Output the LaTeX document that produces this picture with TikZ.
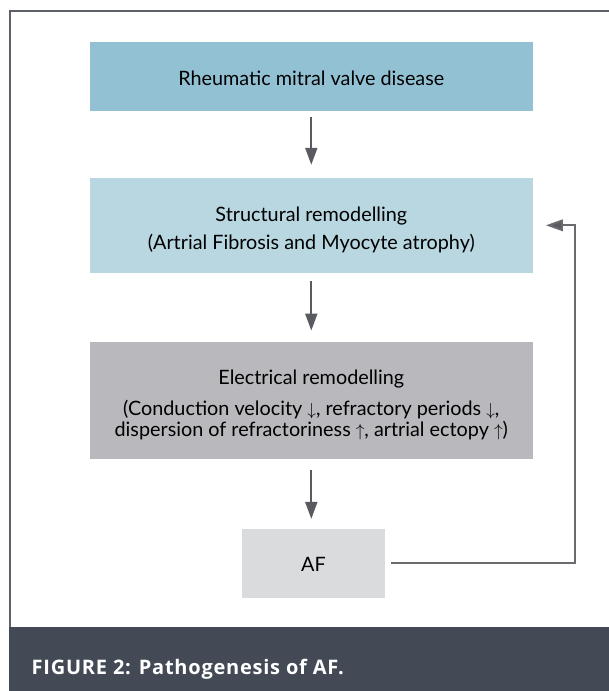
\documentclass[tikz,border=0pt]{standalone}
\usepackage{fontspec}
\setmainfont{Lato}
\newfontfamily\capfont[LetterSpace=3.8]{Open Sans}
\usetikzlibrary{arrows.meta}
\definecolor{boxA}{HTML}{93C1D4}
\definecolor{boxB}{HTML}{B9D7E1}
\definecolor{boxC}{HTML}{B9B8BD}
\definecolor{boxD}{HTML}{DADBDD}
\definecolor{capbg}{HTML}{434A55}
\definecolor{framec}{HTML}{5B6069}
\definecolor{arrc}{HTML}{5A5B60}
\definecolor{feedc}{HTML}{6B6B6F}
\newcommand{\dnarr}{{\fontsize{17}{17}\selectfont\(\downarrow\)}}
\newcommand{\uparr}{{\fontsize{17}{17}\selectfont\(\uparrow\)}}
\tikzset{
  flowbox/.style={draw=none, inner sep=0pt},
  flowtext/.style={inner sep=0pt, align=center, font=\fontsize{19.8}{28}\selectfont, text=black},
  flowarrow/.style={draw=arrc, line width=2pt, -{Triangle[length=17pt,width=12pt]}},
  feedline/.style={draw=feedc, line width=2pt, -{Triangle[length=17pt,width=11.5pt,fill=arrc]}},
}
\begin{document}
\begin{tikzpicture}[x=1pt,y=-1pt]
\useasboundingbox (0,0) rectangle (609,691);
\fill[white] (0,0) rectangle (609,691);
% frame
\draw[framec, line width=2pt] (10,627) -- (10,11) -- (609,11);
% caption band
\fill[capbg] (9,626.7) rectangle (609,691);
\node[anchor=west, text=white, inner sep=0pt, font=\capfont\bfseries\fontsize{20}{22}\selectfont] (cap) at (31.5,669.5) {FIGURE 2: Pathogenesis of AF.};
% boxes
\node[flowbox, fill=boxA, minimum width=442.7pt, minimum height=68.7pt] (b1) at (311.3,76.3) {};
\node[flowbox, fill=boxB, minimum width=442.7pt, minimum height=94.7pt] (b2) at (311.3,225.3) {};
\node[flowbox, fill=boxC, minimum width=442.7pt, minimum height=117.3pt] (b3) at (311.3,400.4) {};
\node[flowbox, fill=boxD, minimum width=143pt, minimum height=68.7pt] (b4) at (313.5,563.4) {};
% texts
\node[flowtext] (t1) at ([yshift=-2pt]b1.center) {Rheumatic mitral valve disease};
\node[flowtext] (t2) at ([yshift=-4.5pt]b2.center) {Structural remodelling\\(Artrial Fibrosis and Myocyte atrophy)};
\node[flowtext, font=\fontsize{19.8}{21}\selectfont] (t3) at ([yshift=-5pt]b3.center) {Electrical remodelling\\[10pt](Conduction velocity \dnarr, refractory periods \dnarr,\\dispersion of refractoriness \uparr, artrial ectopy \uparr)};
\node[flowtext] (t4) at ([yshift=-1pt]b4.center) {AF};
% arrows
\draw[flowarrow, shorten <=6pt, shorten >=13pt] (b1.south) -- (b2.north);
\draw[flowarrow, shorten <=8.3pt, shorten >=11pt] (b2.south) -- (b3.north);
\draw[flowarrow, shorten <=10.3pt, shorten >=10pt] (b3.south) -- (b4.north -| b3.south);
% feedback
\coordinate (fbc) at (575,225.3);
\draw[feedline, shorten <=6pt, shorten >=13pt] (b4.east) -| (fbc) -- (b2.east);
\end{tikzpicture}
\end{document}
